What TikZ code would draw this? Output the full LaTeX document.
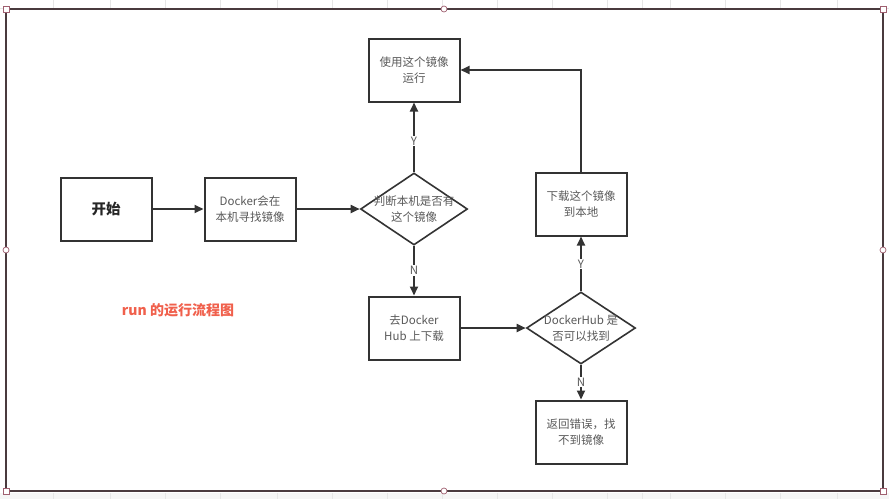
\documentclass[tikz,border=0pt]{standalone}
\usepackage{fontspec}
\setmainfont{Noto Sans CJK SC}
\usetikzlibrary{arrows.meta,shapes.geometric}
\definecolor{linec}{HTML}{333333}
\definecolor{framec}{HTML}{4A3A3E}
\definecolor{txtc}{HTML}{5A5A5A}
\definecolor{redc}{HTML}{F0604C}
\definecolor{gridc}{HTML}{E6E6E6}
\definecolor{handlec}{HTML}{A06070}
\tikzset{
  box/.style={draw=linec, line width=2pt, fill=white, minimum width=91pt, minimum height=63pt, inner sep=0pt, align=center, text=txtc, font=\fontsize{11.5}{16}\selectfont},
  dia/.style={draw=linec, line width=1.6pt, fill=white, shape=diamond, inner sep=0pt, minimum width=107pt, minimum height=72pt},
  dtext/.style={align=center, text=txtc, font=\fontsize{11.5}{16}\selectfont},
  arr/.style={draw=linec, line width=1.8pt, -{Triangle[length=9pt,width=8pt]}},
  yn/.style={fill=white, text=txtc, inner sep=1pt, font=\fontsize{11.5}{12}\selectfont},
  handle/.style={draw=handlec, fill=white, line width=0.7pt, inner sep=0pt, minimum size=6pt},
}
\begin{document}
\begin{tikzpicture}[x=1pt,y=-1pt]
\useasboundingbox (0,0) rectangle (889,499);
% faint grid outside frame
\fill[gridc!40] (0,493) rectangle (889,499);
\foreach \gx in {53,110,165,220,277,332,387,442,497,552,607,642,670,725,780,837} {
  \draw[gridc, line width=0.8pt] (\gx,0) -- (\gx,8);
  \draw[gridc, line width=0.8pt] (\gx,493) -- (\gx,499);
}
\draw[gridc, line width=0.8pt] (0,8) -- (889,8);
% frame
\draw[draw=framec, line width=1.6pt] (6,9) rectangle (883,491);
\foreach \hx/\hy/\hn in {6/9/ha,883/9/hb,6/491/hc,883/491/hd} {
  \node[handle, shape=rectangle] (\hn) at (\hx,\hy) {};
}
\foreach \hx/\hy/\hn in {444/9/he,6/250/hf,883/250/hg,444/491/hh} {
  \node[handle, shape=circle] (\hn) at (\hx,\hy) {};
}
% nodes
\node[box, text=black!85, font=\fontsize{14.5}{16}\selectfont\bfseries] (start) at (106,209) {开始};
\node[box] (look) at (250,209) {Docker会在\\本机寻找镜像};
\node[dia] (d1) at (414,209) {};
\node[dtext] (d1t) at (414,209) {判断本机是否有\\这个镜像};
\node[box] (use) at (414,70) {使用这个镜像\\运行};
\node[box] (hub) at (414,328) {去Docker\\Hub 上下载};
\node[dia, minimum width=109pt] (d2) at (581,328) {};
\node[dtext] (d2t) at (581,328) {DockerHub 是\\否可以找到};
\node[box] (dl) at (581,204) {下载这个镜像\\到本地};
\node[box] (err) at (581,432) {返回错误，找\\不到镜像};
\node[text=redc, font=\fontsize{14}{16}\selectfont\bfseries] (title) at (178,310) {run 的运行流程图};
% connectors
\draw[arr] (start) -- (look);
\draw[arr] (look) -- (d1.west);
\draw[arr] (d1.north) -- node[yn, pos=0.45] (y1) {Y} (use.south);
\draw[arr] (d1.south) -- node[yn, pos=0.5] (n1) {N} (hub.north);
\draw[arr] (hub) -- (d2.west);
\draw[arr] (d2.north) -- node[yn, pos=0.5] (y2) {Y} (dl.south);
\draw[arr] (d2.south) -- node[yn, pos=0.5] (n2) {N} (err.north);
\draw[arr] (dl.north) |- (use.east);
\end{tikzpicture}
\end{document}
